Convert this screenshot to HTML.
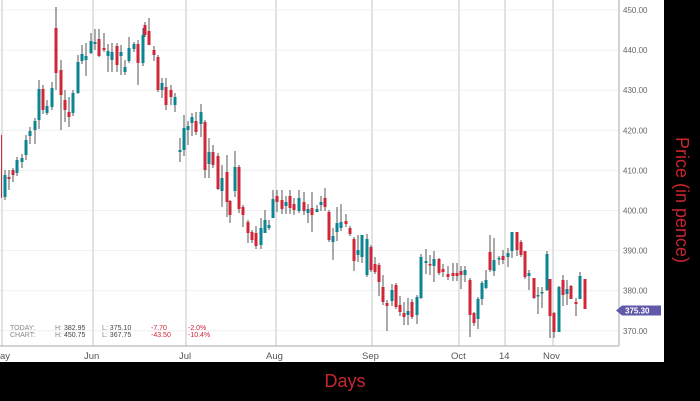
<!DOCTYPE html>
<html><head><meta charset="utf-8"><style>
body{margin:0;background:#000;width:700px;height:401px;overflow:hidden;font-family:"Liberation Sans",sans-serif}
</style></head><body>
<svg width="700" height="401" xmlns="http://www.w3.org/2000/svg" style="position:absolute;left:0;top:0">
<rect x="0" y="0" width="700" height="401" fill="#000"/>
<rect x="0" y="0" width="664" height="362" fill="#fff"/>
<g id="grid" stroke="#efefef" stroke-width="1"></g>
<g stroke="#e2e2e2" stroke-width="2">
<line x1="2" y1="0" x2="2" y2="346"/><line x1="93" y1="0" x2="93" y2="346"/><line x1="186" y1="0" x2="186" y2="346"/><line x1="276" y1="0" x2="276" y2="346"/><line x1="372" y1="0" x2="372" y2="346"/><line x1="459" y1="0" x2="459" y2="346"/><line x1="505" y1="0" x2="505" y2="346"/><line x1="553" y1="0" x2="553" y2="346"/>
</g>
<line x1="619" y1="0" x2="619" y2="346" stroke="#aaa"/>
<line x1="0" y1="346" x2="619" y2="346" stroke="#aaa"/>
<g id="ylab" font-size="8" fill="#666"></g>
<g font-size="9.5" fill="#555">
<text x="0" y="359">ay</text><text x="84" y="359">Jun</text><text x="179" y="359">Jul</text><text x="266" y="359">Aug</text><text x="362" y="359">Sep</text><text x="451" y="359">Oct</text><text x="499" y="359">14</text><text x="543" y="359">Nov</text>
</g>
<g id="c"></g>
<polygon points="616,310.5 622,305.5 661,305.5 661,315.5 622,315.5" fill="#6058a8"/>
<text x="625" y="313.5" font-size="8" fill="#fff" font-weight="bold">375.30</text>
<g font-size="7" fill="#888">
<text x="10" y="330">TODAY:</text><text x="10" y="337">CHART:</text>
<text x="55" y="330">H: <tspan fill="#444">382.95</tspan></text><text x="55" y="337">H: <tspan fill="#444">450.75</tspan></text>
<text x="102" y="330">L: <tspan fill="#444">375.10</tspan></text><text x="102" y="337">L: <tspan fill="#444">367.75</tspan></text>
<text x="151" y="330" fill="#d0263a">-7.70</text><text x="151" y="337" fill="#d0263a">-43.50</text>
<text x="188" y="330" fill="#d0263a">-2.0%</text><text x="188" y="337" fill="#d0263a">-10.4%</text>
</g>
<text x="345" y="387" font-size="18" fill="#c8262e" text-anchor="middle">Days</text>
<text transform="translate(676,200) rotate(90)" font-size="18" fill="#c8262e" text-anchor="middle">Price (in pence)</text>
</svg>
<script>
var ns="http://www.w3.org/2000/svg";
function el(p,t,a){var e=document.createElementNS(ns,t);for(var k in a)e.setAttribute(k,a[k]);p.appendChild(e);return e;}
var g=document.getElementById('grid'),yl=document.getElementById('ylab');
for(var p=370;p<=450;p+=10){var y=10+(450-p)*4.01;el(g,'line',{x1:0,y1:y,x2:619,y2:y});var t=el(yl,'text',{x:623,y:y+3});t.textContent=p+'.00';}
var R='r',T='t';
var d=[[5,175,197,T,170,200],[9,177,179,R,170,190],[13,170,175,R,168,182],[17,160,173,T,157,176],[22,158,162,T,154,168],[26,140,155,T,135,160],[30,131,136,T,127,144],[35,121,130,T,118,144],[39,89,120,T,80,129],[43,89,110,R,85,114],[47,106,113,T,100,115],[52,88,107,T,82,110],[56,28,73,R,7,90],[61,70,95,R,60,130],[65,100,110,R,90,122],[69,112,117,R,97,127],[73,93,113,T,90,116],[78,62,93,T,55,94],[82,54,61,T,45,64],[86,56,60,T,43,76],[91,41,53,T,33,54],[95,42,44,T,29,50],[99,39,56,R,29,57],[104,48,50,R,33,52],[108,51,56,T,44,72],[112,52,60,T,43,72],[117,46,65,R,43,72],[121,52,56,T,45,75],[125,67,72,T,60,75],[129,48,61,T,37,63],[134,44,49,T,42,52],[138,44,63,R,40,85],[143,35,63,T,28,66],[145,25,35,R,22,37],[149,31,45,R,18,45],[154,50,55,R,46,61],[158,57,90,R,55,92],[162,83,90,T,78,98],[166,87,105,R,78,110],[171,90,97,R,85,105],[175,97,105,T,93,112],[180,150,152,T,138,162],[184,128,150,T,115,156],[188,126,130,T,121,145],[192,117,123,T,113,136],[196,121,132,R,112,135],[201,112,124,T,104,137],[205,122,170,R,120,178],[209,152,164,T,138,178],[213,152,165,R,145,168],[218,156,189,R,153,190],[222,178,191,T,165,207],[227,172,202,R,155,217],[230,201,215,R,200,223],[235,167,191,T,151,197],[239,167,209,R,165,213],[243,207,215,R,205,227],[248,222,233,R,220,243],[252,232,240,R,230,243],[256,233,246,R,226,249],[261,228,245,T,218,249],[265,220,233,T,210,233],[269,225,228,T,220,230],[273,199,218,T,190,218],[277,196,202,R,190,212],[282,200,209,R,190,214],[286,202,206,T,196,214],[290,196,208,R,190,214],[294,204,210,R,198,215],[299,198,211,T,190,213],[304,202,211,R,192,215],[308,209,213,T,204,223],[312,208,215,R,192,232],[317,209,212,T,205,212],[321,202,205,T,196,211],[325,198,207,R,188,211],[329,212,240,R,210,242],[333,236,242,T,228,260],[337,223,232,T,207,241],[341,222,228,T,204,231],[346,221,224,R,214,227],[350,228,234,R,226,236],[354,239,261,R,237,271],[358,250,255,T,235,262],[362,235,257,T,235,263],[367,239,275,T,234,277],[371,247,270,R,245,272],[375,264,272,R,257,274],[379,265,282,R,263,296],[383,287,302,R,275,305],[387,303,306,R,300,331],[392,290,301,T,284,306],[396,285,307,R,283,309],[400,305,312,R,296,316],[404,313,317,R,302,325],[408,311,315,T,298,325],[412,302,317,R,299,319],[417,297,315,T,295,324],[421,257,298,T,254,299],[426,261,263,T,249,274],[430,264,265,R,255,275],[434,259,266,T,251,282],[439,259,273,R,258,275],[443,269,272,R,264,277],[448,274,277,R,266,280],[453,273,276,R,263,281],[457,273,276,R,263,281],[461,271,275,R,266,289],[465,270,275,T,266,282],[470,280,315,R,278,337],[474,313,323,R,312,326],[478,299,319,T,297,329],[482,283,299,T,281,305],[486,280,288,T,270,289],[490,252,270,R,235,272],[494,260,271,T,238,276],[499,258,259,T,256,265],[503,256,260,R,250,264],[508,253,257,T,248,267],[512,232,251,T,232,258],[517,232,250,R,232,256],[521,242,255,R,240,257],[525,251,277,R,251,279],[529,273,276,T,270,290],[534,278,298,R,278,299],[538,295,296,T,287,314],[542,292,293,T,287,308],[547,254,290,T,251,291],[550,279,316,R,279,338],[554,313,332,R,312,338],[559,287,332,T,286,332],[563,280,295,R,275,306],[567,289,294,T,280,305],[571,286,299,R,285,299],[576,302,304,R,298,316],[580,276,299,T,272,299],[585,279,309,R,279,309]];
var c=document.getElementById('c');
el(c,'line',{x1:1.5,y1:135,x2:1.5,y2:198,stroke:'#d0263a','stroke-width':1});
d.forEach(function(a){var x=a[0];
el(c,'line',{x1:x,y1:a[4],x2:x,y2:a[5],stroke:'#555','stroke-width':1});
el(c,'rect',{x:x-1.5,y:a[1],width:3,height:Math.max(1.5,a[2]-a[1]),fill:a[3]==R?'#d0263a':'#0b8591'});});
</script>
</body></html>
